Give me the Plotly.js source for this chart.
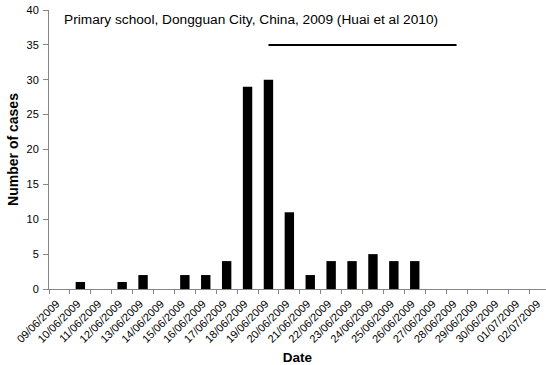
<!DOCTYPE html>
<html>
<head>
<meta charset="utf-8">
<script src="https://cdn.plot.ly/plotly-3.0.1.min.js"></script>
<style>html,body{margin:0;padding:0;background:#fff;}#chart{width:546px;height:365px;}</style>
</head>
<body>
<div id="chart"></div>
<script>
var dates = ["09/06/2009","10/06/2009","11/06/2009","12/06/2009","13/06/2009","14/06/2009","15/06/2009","16/06/2009","17/06/2009","18/06/2009","19/06/2009","20/06/2009","21/06/2009","22/06/2009","23/06/2009","24/06/2009","25/06/2009","26/06/2009","27/06/2009","28/06/2009","29/06/2009","30/06/2009","01/07/2009","02/07/2009"];
var cases = [0,1,0,1,2,0,2,2,4,29,30,11,2,4,4,5,4,4,0,0,0,0,0,0];
var periodDates = ["19/06/2009","28/06/2009"];
var periodLevel = [35,35];
var titleText = "Primary school, Dongguan City, China, 2009 (Huai et al 2010)";
var yTicks = [0,5,10,15,20,25,30,35,40];

var font = "Liberation Sans, Arial, sans-serif";
var traces = [
  {type:"bar", x:dates, y:cases, marker:{color:"#000000"}, hoverinfo:"x+y"},
  {type:"scatter", mode:"lines", x:periodDates, y:periodLevel, line:{color:"#000000", width:2}, hoverinfo:"skip"}
];
var layout = {
  width:546, height:365,
  margin:{l:49, r:0, t:10, b:75.5},
  paper_bgcolor:"#ffffff", plot_bgcolor:"#ffffff",
  showlegend:false,
  bargap:0.55,
  font:{family:font, color:"#000000"},
  xaxis:{
    type:"category", categoryorder:"array", categoryarray:dates,
    range:[-0.5, 23.28], automargin:false,
    tickangle:-45, tickson:"boundaries", ticks:"outside", ticklen:4, tickcolor:"#868686",
    tickfont:{size:11, family:font, color:"#000000"},
    ticklabelstandoff:3, ticklabelshift:-3,
    showline:true, linecolor:"#868686", linewidth:1, showgrid:false, zeroline:false,
    title:{text:"<b>Date</b>", font:{size:13.5, family:font}, standoff:10}
  },
  yaxis:{
    range:[0,40], tickvals:yTicks, ticks:"outside", ticklen:5, tickcolor:"#868686",
    tickfont:{size:11, family:font, color:"#000000"}, automargin:false,
    ticklabelstandoff:2,
    showline:true, linecolor:"#868686", linewidth:1, showgrid:false, zeroline:false,
    title:{text:"<b>Number of cases</b>", font:{size:14, family:font}, standoff:4}
  },
  annotations:[{
    text:titleText, xref:"paper", yref:"y", x:0.027, y:38.6, xanchor:"left", yanchor:"middle",
    showarrow:false, font:{size:13.7, family:font, color:"#000000"}
  }]
};
Plotly.newPlot("chart", traces, layout, {displayModeBar:false, staticPlot:true});
</script>
</body>
</html>
